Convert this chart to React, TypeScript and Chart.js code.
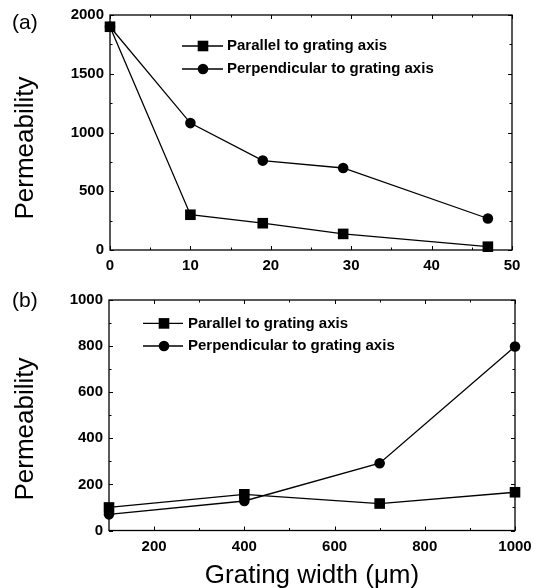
import React, { useEffect, useRef } from "react";
import { Chart, registerables } from "chart.js";

Chart.register(...registerables);

// ---- Panel (a) data ----
const A_WIDTH = [0, 10, 19, 29, 47];
const A_PARALLEL = [1900, 300, 228, 137, 28];
const A_PERPENDICULAR = [1900, 1080, 761, 698, 268];
const A_X_TICKS = [0, 10, 20, 30, 40, 50];
const A_X_MINOR = [5, 15, 25, 35, 45];
const A_Y_TICKS = [0, 500, 1000, 1500, 2000];
const A_Y_MINOR = [250, 750, 1250, 1750];

// ---- Panel (b) data ----
const B_WIDTH = [100, 400, 700, 1000];
const B_PARALLEL = [100, 157, 117, 166];
const B_PERPENDICULAR = [70, 128, 292, 798];
const B_X_TICKS = [200, 400, 600, 800, 1000];
const B_X_MINOR = [300, 500, 700, 900];
const B_Y_TICKS = [0, 200, 400, 600, 800, 1000];
const B_Y_MINOR = [100, 300, 500, 700, 900];

const LEGEND_LABELS = ["Parallel to grating axis", "Perpendicular to grating axis"];
const Y_TITLE = "Permeability";
const X_TITLE = "Grating width (\u03bcm)";

const FONT = "'Liberation Sans', Arial, Helvetica, sans-serif";

type PanelSpec = {
  xs: number[];
  par: number[];
  perp: number[];
  xMin: number;
  xMax: number;
  yMax: number;
  xTicks: number[];
  xMinor: number[];
  yTicks: number[];
  yMinor: number[];
  padTop: number;
  padRight: number;
  yWidth: number;
  xHeight: number;
  tag: string;
  tagY: number;
  yTitleY: number;
  legend: { x1: number; x2: number; mx: number; tx: number; y1: number; y2: number };
  xTitle?: { x: number; y: number };
};

function makeConfig(p: PanelSpec): any {
  const framePlugin = {
    id: "frame",
    afterDraw(chart: any) {
      const { ctx, chartArea: a, scales } = chart;
      const xs = scales.x;
      const ys = scales.y;
      ctx.save();
      ctx.strokeStyle = "#000";
      ctx.lineWidth = 1.3;
      ctx.strokeRect(a.left, a.top, a.right - a.left, a.bottom - a.top);
      ctx.lineWidth = 1;
      const xTick = (vals: number[], len: number) => {
        vals.forEach((v) => {
          const px = Math.round(xs.getPixelForValue(v)) + 0.5;
          ctx.beginPath();
          ctx.moveTo(px, a.bottom);
          ctx.lineTo(px, a.bottom - len);
          ctx.moveTo(px, a.top);
          ctx.lineTo(px, a.top + len);
          ctx.stroke();
        });
      };
      const yTick = (vals: number[], len: number) => {
        vals.forEach((v) => {
          const py = Math.round(ys.getPixelForValue(v)) + 0.5;
          ctx.beginPath();
          ctx.moveTo(a.left, py);
          ctx.lineTo(a.left + len, py);
          ctx.moveTo(a.right, py);
          ctx.lineTo(a.right - len, py);
          ctx.stroke();
        });
      };
      xTick(p.xTicks, 4);
      xTick(p.xMinor, 2.5);
      yTick(p.yTicks, 4);
      yTick(p.yMinor, 2.5);

      // legend
      const L = p.legend;
      ctx.fillStyle = "#000";
      ctx.lineWidth = 1.3;
      [L.y1, L.y2].forEach((ly, i) => {
        ctx.beginPath();
        ctx.moveTo(L.x1, ly);
        ctx.lineTo(L.x2, ly);
        ctx.stroke();
        if (i === 0) {
          ctx.fillRect(L.mx - 5.3, ly - 5.3, 10.6, 10.6);
        } else {
          ctx.beginPath();
          ctx.arc(L.mx, ly, 5.3, 0, Math.PI * 2);
          ctx.fill();
        }
        ctx.font = `bold 15px ${FONT}`;
        ctx.textAlign = "left";
        ctx.textBaseline = "middle";
        ctx.fillText(LEGEND_LABELS[i], L.tx, ly);
      });

      // panel tag
      ctx.font = `21px ${FONT}`;
      ctx.textAlign = "left";
      ctx.textBaseline = "middle";
      ctx.fillText(p.tag, 12, p.tagY);

      // y title
      ctx.save();
      ctx.translate(33, p.yTitleY);
      ctx.rotate(-Math.PI / 2);
      ctx.font = `26px ${FONT}`;
      ctx.textAlign = "center";
      ctx.textBaseline = "alphabetic";
      ctx.fillText(Y_TITLE, 0, 0);
      ctx.restore();

      if (p.xTitle) {
        ctx.font = `26px ${FONT}`;
        ctx.textAlign = "center";
        ctx.textBaseline = "alphabetic";
        ctx.fillText(X_TITLE, (a.left + a.right) / 2, p.xTitle.y);
      }
      ctx.restore();
    },
  };

  const tickFont = { family: FONT, size: 15, weight: "bold" };
  const fmt = (v: any) => String(v);
  return {
    type: "line",
    data: {
      datasets: [
        {
          label: LEGEND_LABELS[0],
          data: p.xs.map((x, i) => ({ x, y: p.par[i] })),
          borderColor: "#000",
          backgroundColor: "#000",
          borderWidth: 1.3,
          pointStyle: "rect",
          pointRadius: 7.5,
          pointBorderWidth: 0,
          clip: false,
        },
        {
          label: LEGEND_LABELS[1],
          data: p.xs.map((x, i) => ({ x, y: p.perp[i] })),
          borderColor: "#000",
          backgroundColor: "#000",
          borderWidth: 1.3,
          pointStyle: "circle",
          pointRadius: 5.3,
          pointBorderWidth: 0,
          clip: false,
        },
      ],
    },
    options: {
      animation: false,
      responsive: false,
      maintainAspectRatio: false,
      layout: { padding: { top: p.padTop, right: p.padRight, left: 0, bottom: 0 } },
      plugins: { legend: { display: false }, tooltip: { enabled: false } },
      scales: {
        x: {
          type: "linear",
          min: p.xMin,
          max: p.xMax,
          afterBuildTicks: (s: any) => {
            s.ticks = p.xTicks.map((v) => ({ value: v }));
          },
          afterFit: (s: any) => {
            s.height = p.xHeight;
          },
          grid: { display: false, drawTicks: false },
          border: { display: false },
          ticks: { font: tickFont, color: "#000", padding: 7, maxRotation: 0, autoSkip: false, callback: fmt },
        },
        y: {
          type: "linear",
          min: 0,
          max: p.yMax,
          afterBuildTicks: (s: any) => {
            s.ticks = p.yTicks.map((v) => ({ value: v }));
          },
          afterFit: (s: any) => {
            s.width = p.yWidth;
          },
          grid: { display: false, drawTicks: false },
          border: { display: false },
          ticks: { font: tickFont, color: "#000", padding: 6, autoSkip: false, callback: fmt },
        },
      },
    },
    plugins: [framePlugin],
  };
}

const PANEL_A: PanelSpec = {
  xs: A_WIDTH,
  par: A_PARALLEL,
  perp: A_PERPENDICULAR,
  xMin: 0,
  xMax: 50,
  yMax: 2000,
  xTicks: A_X_TICKS,
  xMinor: A_X_MINOR,
  yTicks: A_Y_TICKS,
  yMinor: A_Y_MINOR,
  padTop: 15,
  padRight: 34,
  yWidth: 110,
  xHeight: 35,
  tag: "(a)",
  tagY: 23,
  yTitleY: 148,
  legend: { x1: 182, x2: 223, mx: 203, tx: 227, y1: 46, y2: 69 },
};

const PANEL_B: PanelSpec = {
  xs: B_WIDTH,
  par: B_PARALLEL,
  perp: B_PERPENDICULAR,
  xMin: 100,
  xMax: 1000,
  yMax: 1000,
  xTicks: B_X_TICKS,
  xMinor: B_X_MINOR,
  yTicks: B_Y_TICKS,
  yMinor: B_Y_MINOR,
  padTop: 11,
  padRight: 31,
  yWidth: 109,
  xHeight: 57.5,
  tag: "(b)",
  tagY: 16.5,
  yTitleY: 144,
  legend: { x1: 143, x2: 183, mx: 164, tx: 188, y1: 38.4, y2: 61 },
  xTitle: { x: 312, y: 298 },
};

export default function App() {
  const refA = useRef<HTMLCanvasElement | null>(null);
  const refB = useRef<HTMLCanvasElement | null>(null);
  useEffect(() => {
    const c1 = new Chart(refA.current as HTMLCanvasElement, makeConfig(PANEL_A));
    const c2 = new Chart(refB.current as HTMLCanvasElement, makeConfig(PANEL_B));
    return () => {
      c1.destroy();
      c2.destroy();
    };
  }, []);
  return (
    <div style={{ position: "absolute", left: 0, top: 0, width: 546, height: 588, background: "#fff" }}>
      <canvas ref={refA} width={546} height={285} style={{ display: "block", width: 546, height: 285 }} />
      <canvas ref={refB} width={546} height={303} style={{ display: "block", width: 546, height: 303 }} />
    </div>
  );
}
